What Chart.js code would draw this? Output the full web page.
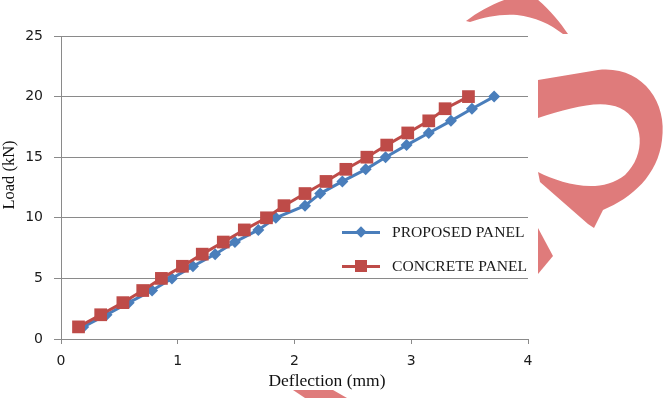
<!DOCTYPE html>
<html>
<head>
<meta charset="utf-8">
<script src="https://cdn.jsdelivr.net/npm/chart.js@4/dist/chart.umd.min.js"></script>
<style>
html,body{margin:0;padding:0;background:#fff;}
#wrap{position:relative;width:669px;height:398px;overflow:hidden;background:#fff;}
#wm{position:absolute;left:0;top:0;z-index:0;}
#c{position:absolute;left:0;top:0;z-index:1;}
.legrow{position:absolute;z-index:2;height:20px;}
.legline{position:absolute;left:0;top:8.5px;width:38px;height:3px;}
.legmark{position:absolute;}
.legtext{position:absolute;left:50px;top:0;line-height:20px;font-family:"Liberation Serif","Times New Roman",serif;font-size:15.6px;color:#1a1a1a;white-space:nowrap;}
</style>
</head>
<body>
<div id="wrap">
<svg id="wm" width="669" height="398" viewBox="0 0 669 398">
  <g fill="#df7b7b">
    <path d="M466,21 C478,12 492,4 507,-1 L537,-1 C550,10 560,22 568,34 L563,34 C550,24 535,17 517,15 C500,14 485,17 470,22 Z"/>
    <path d="M538,80 L598,70 C640,65 668,100 662,140 C658,175 632,198 603,210 L594,228 L588,224 L540,182 L538,172 C562,184 600,195 625,175 C646,155 645,120 620,108 C600,99 570,108 538,118 Z"/>
    <path d="M538,228 L553,256 L538,274 Z"/>
    <path d="M293,390 L333,390 L347,398 L305,398 Z"/>
  </g>
</svg>
<canvas id="c" width="669" height="398"></canvas>
<div id="legend"></div>
</div>
<script>
// ---- data ----
const loadKN = [1, 2, 3, 4, 5, 6, 7, 8, 9, 10, 11, 12, 13, 14, 15, 16, 17, 18, 19, 20];
const proposedDeflection = [0.19, 0.39, 0.58, 0.78, 0.95, 1.13, 1.32, 1.49, 1.69, 1.84, 2.09, 2.22, 2.41, 2.61, 2.78, 2.96, 3.15, 3.34, 3.52, 3.71];
const concreteDeflection = [0.15, 0.34, 0.53, 0.70, 0.86, 1.04, 1.21, 1.39, 1.57, 1.76, 1.91, 2.09, 2.27, 2.44, 2.62, 2.79, 2.97, 3.15, 3.29, 3.49];
const seriesNames = ["PROPOSED PANEL", "CONCRETE PANEL"];
const xTitle = "Deflection (mm)";
const yTitle = "Load (kN)";
const xTicks = [0, 1, 2, 3, 4];
const yTicks = [0, 5, 10, 15, 20, 25];

const BLUE = "#4a7ebb";
const RED = "#be4b48";
const GRID = "#8a8a8a";

function pts(xs, ys) { return xs.map((x, i) => ({x: x, y: ys[i]})); }

const tickFont = {family: "'DejaVu Sans', sans-serif", size: 14};
const SERIF = "'Liberation Serif', 'Times New Roman', serif";

// axis titles drawn as canvas text at the reference's positions
const axisTitles = {
  id: "axisTitles",
  afterDraw(chart) {
    const ctx = chart.ctx;
    ctx.save();
    ctx.fillStyle = "#111";
    ctx.textAlign = "center";
    ctx.textBaseline = "middle";
    ctx.font = "17.5px " + SERIF;
    ctx.fillText(xTitle, 327, 381);
    ctx.translate(10, 175);
    ctx.rotate(-Math.PI / 2);
    ctx.font = "16.5px " + SERIF;
    ctx.fillText(yTitle, 0, 0);
    ctx.restore();
  }
};

new Chart(document.getElementById("c"), {
  type: "line",
  data: {
    datasets: [
      {
        label: seriesNames[0],
        data: pts(proposedDeflection, loadKN),
        borderColor: BLUE, backgroundColor: BLUE,
        borderWidth: 3, pointStyle: "rectRot", pointRadius: 6,
        pointBorderWidth: 0, tension: 0, order: 1
      },
      {
        label: seriesNames[1],
        data: pts(concreteDeflection, loadKN),
        borderColor: RED, backgroundColor: RED,
        borderWidth: 3, pointStyle: "rect", pointRadius: 9,
        pointBorderWidth: 0, tension: 0, order: 0
      }
    ]
  },
  plugins: [axisTitles],
  options: {
    responsive: false,
    animation: false,
    layout: {padding: {left: 0, top: 36, right: 141, bottom: 0}},
    plugins: {legend: {display: false}, tooltip: {enabled: false}},
    scales: {
      x: {
        type: "linear", min: 0, max: 4,
        afterFit: s => { s.height = 59; },
        afterBuildTicks: s => { s.ticks = xTicks.map(v => ({value: v})); },
        ticks: {font: tickFont, color: "#1a1a1a", padding: 9, maxRotation: 0},
        grid: {drawOnChartArea: false, drawTicks: true, tickLength: 5, color: GRID, lineWidth: 1},
        border: {color: GRID, width: 1},
        title: {display: false}
      },
      y: {
        type: "linear", min: 0, max: 25,
        afterFit: s => { s.width = 61; },
        afterBuildTicks: s => { s.ticks = yTicks.map(v => ({value: v})); },
        ticks: {font: tickFont, color: "#1a1a1a", padding: 11},
        grid: {drawOnChartArea: true, drawTicks: true, tickLength: 7, color: GRID, lineWidth: 1},
        border: {color: GRID, width: 1},
        title: {display: false}
      }
    }
  }
});

// ---- legend (HTML, real text) ----
const legend = document.getElementById("legend");
const legendSpec = [
  {name: seriesNames[0], color: BLUE, mark: "diamond", top: 222},
  {name: seriesNames[1], color: RED, mark: "square", top: 256}
];
legendSpec.forEach(s => {
  const row = document.createElement("div");
  row.className = "legrow";
  row.style.left = "342px";
  row.style.top = s.top + "px";
  const line = document.createElement("div");
  line.className = "legline";
  line.style.background = s.color;
  row.appendChild(line);
  const m = document.createElement("div");
  m.className = "legmark";
  m.style.background = s.color;
  if (s.mark === "diamond") {
    m.style.width = "8px"; m.style.height = "8px";
    m.style.left = "15px"; m.style.top = "6px";
    m.style.transform = "rotate(45deg)";
  } else {
    m.style.width = "12px"; m.style.height = "12px";
    m.style.left = "13px"; m.style.top = "4px";
  }
  row.appendChild(m);
  const t = document.createElement("div");
  t.className = "legtext";
  t.textContent = s.name;
  row.appendChild(t);
  legend.appendChild(row);
});
</script>
</body>
</html>
